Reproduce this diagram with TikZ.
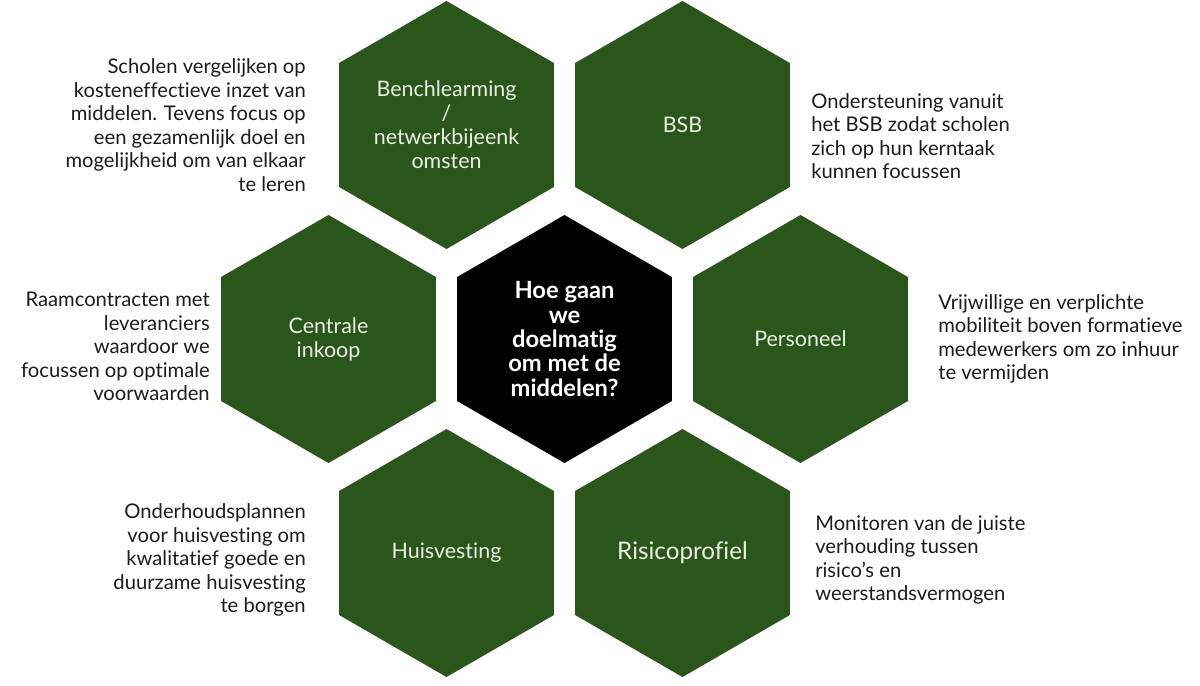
\documentclass[tikz,border=0pt]{standalone}
\usepackage{fontspec}
\setmainfont{Lato}[Ligatures=NoCommon]
\usepackage{tikz}
\usetikzlibrary{
	positioning,
	calc,
	shapes.geometric
}
\definecolor{hexgreen}{RGB}{42,86,28}
\definecolor{hextext}{RGB}{234,241,228}
\definecolor{desctext}{RGB}{28,28,28}

\begin{document}
\begin{tikzpicture}[
		hexcell/.style={regular polygon, regular polygon sides=6, shape border rotate=30, minimum size=4.96cm, inner sep=0pt, outer sep=0pt, fill=hexgreen, text=hextext, align=center, font=\fontsize{12.2}{13.7}\selectfont},
		corecell/.style={hexcell, fill=black, text=white, font=\bfseries\fontsize{13.5}{13.9}\selectfont},
		desc/.style={inner sep=0pt, text=desctext, font=\fontsize{11.5}{13.4}\selectfont}
	]

		\fill[white] (0, 0) rectangle (24, 13.7);
		\useasboundingbox (0, 0) rectangle (24, 13.7);

		% honeycomb
		\node[corecell] (core) at (11.29, 6.92) {Hoe gaan\\we\\doelmatig\\om met de\\middelen?};
		\node[hexcell] (bench) at ($(core) + (-2.36, 4.28)$) {Benchlearming\\/\\netwerkbijeenk\\omsten};
		\node[hexcell] (bsb) at ($(core) + (2.36, 4.28)$) {BSB};
		\node[hexcell] (inkoop) at ($(core) + (-4.72, 0)$) {Centrale\\inkoop};
		\node[hexcell] (personeel) at ($(core) + (4.72, 0)$) {Personeel};
		\node[hexcell] (huisvesting) at ($(core) + (-2.36, -4.28)$) {Huisvesting};
		\node[hexcell, font=\fontsize{13.8}{15}\selectfont] (risico) at ($(core) + (2.36, -4.28)$) {Risicoprofiel};

		% toelichting
		\node[desc, align=right, left=.66 of bench] (benchTxt) {Scholen vergelijken op\\kosteneffectieve inzet van\\middelen. Tevens focus op\\een gezamenlijk doel en\\mogelijkheid om van elkaar\\te leren};
		\node[desc, align=left, right=.42 of bsb, yshift=-.22cm] (bsbTxt) {Ondersteuning vanuit\\het BSB zodat scholen\\zich op hun kerntaak\\kunnen focussen};
		\node[desc, align=right, left=.22 of inkoop, yshift=-.15cm] (inkoopTxt) {Raamcontracten met\\leveranciers\\waardoor we\\focussen op optimale\\voorwaarden};
		\node[desc, align=left, right=.6 of personeel] (personeelTxt) {Vrijwillige en verplichte\\mobiliteit boven formatieve\\medewerkers om zo inhuur\\te vermijden};
		\node[desc, align=right, left=.66 of huisvesting, yshift=-.14cm] (huisvestingTxt) {Onderhoudsplannen\\voor huisvesting om\\kwalitatief goede en\\duurzame huisvesting\\te borgen};
		\node[desc, align=left, right=.5 of risico, yshift=-.14cm] (risicoTxt) {Monitoren van de juiste\\verhouding tussen\\risico’s en\\weerstandsvermogen};

	\end{tikzpicture}
\end{document}
